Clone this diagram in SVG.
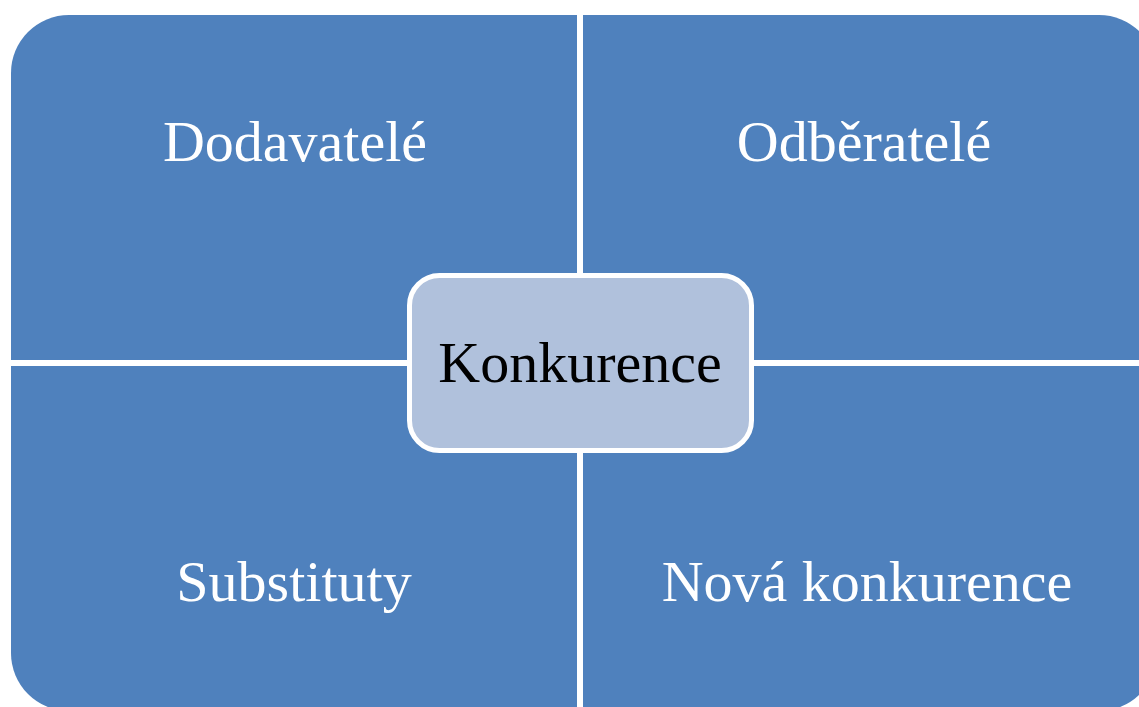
<svg xmlns="http://www.w3.org/2000/svg" width="1139" height="707" viewBox="0 0 1139 707">
<style>
.q{fill:#4F81BD}
.lbl{font-family:"Liberation Serif","Times New Roman",serif;font-size:58px;text-anchor:middle;fill:#FFFFFF}
.ctr{fill:#B0C1DC;stroke:#FFFFFF;stroke-width:5}
.ctext{font-family:"Liberation Serif","Times New Roman",serif;font-size:58px;text-anchor:middle;fill:#000000}
</style>
<rect width="1139" height="707" fill="#FFFFFF"/>
<g id="dodavatele">
<path class="q" d="M11,73 A58,58 0 0 1 69,15 L577,15 L577,360 L11,360 Z"/>
<text class="lbl" x="295" y="161">Dodavatelé</text>
</g>
<g id="odberatele">
<path class="q" d="M583,15 L1099,15 A58,58 0 0 1 1157,73 L1157,360 L583,360 Z"/>
<text class="lbl" x="864" y="161">Odběratelé</text>
</g>
<g id="substituty">
<path class="q" d="M11,366 L577,366 L577,711 L69,711 A58,58 0 0 1 11,653 Z"/>
<text class="lbl" x="294" y="601">Substituty</text>
</g>
<g id="nova-konkurence">
<path class="q" d="M583,366 L1157,366 L1157,653 A58,58 0 0 1 1099,711 L583,711 Z"/>
<text class="lbl" x="867" y="601">Nová konkurence</text>
</g>
<g id="connectors"></g>
<g id="konkurence">
<rect class="ctr" x="409.5" y="275.5" width="342" height="175" rx="30" ry="30"/>
<text class="ctext" x="580" y="382">Konkurence</text>
</g>
</svg>
